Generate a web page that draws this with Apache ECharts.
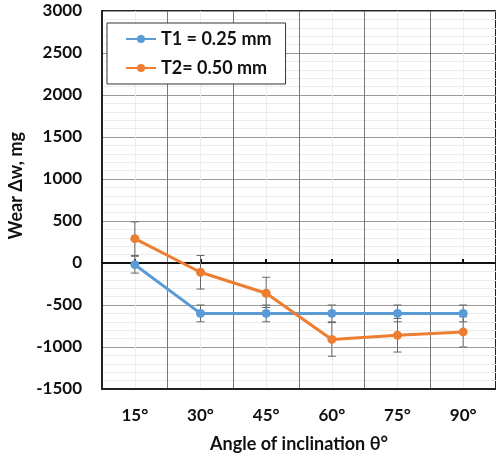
<!DOCTYPE html>
<html>
<head>
<meta charset="utf-8">
<script src="https://cdn.jsdelivr.net/npm/echarts@6/dist/echarts.min.js"></script>
<style>
  html, body { margin: 0; padding: 0; background: #fff; }
  #chart { width: 496px; height: 459px; }
</style>
</head>
<body>
<div id="chart"></div>
<script>
// values
const categories = ['15°', '30°', '45°', '60°', '75°', '90°'];
const t1Values = [-20, -600, -600, -600, -600, -600];
const t1ErrUp = [100, 100, 100, 100, 100, 100];
const t1ErrDown = [100, 100, 100, 100, 100, 100];
const t2Values = [290, -110, -360, -910, -860, -820];
const t2ErrUp = [200, 200, 190, 200, 200, 180];
const t2ErrDown = [200, 200, 170, 200, 200, 180];
const yTicks = { min: -1500, max: 3000, step: 500 };

const FONT = 'Lato';
const chart = echarts.init(document.getElementById('chart'));

const errData = (vals, up, down) =>
  vals.map((v, i) => [i, v - down[i], v + up[i]]);

// vertical error bar with small caps
const renderErr = function (params, api) {
  const lo = api.coord([api.value(0), api.value(1)]);
  const hi = api.coord([api.value(0), api.value(2)]);
  const half = 4;
  const style = { stroke: '#666', lineWidth: 1 };
  return {
    type: 'group',
    children: [
      { type: 'line', shape: { x1: hi[0], y1: hi[1], x2: lo[0], y2: lo[1] }, style },
      { type: 'line', shape: { x1: hi[0] - half, y1: hi[1], x2: hi[0] + half, y2: hi[1] }, style },
      { type: 'line', shape: { x1: lo[0] - half, y1: lo[1], x2: lo[0] + half, y2: lo[1] }, style }
    ]
  };
};

const option = {
  animation: false,
  backgroundColor: '#fff',
  grid: {
    left: 102, right: -4, top: 11, bottom: 70,
    show: true, borderColor: '#222', borderWidth: 2,
    containLabel: false
  },
  legend: {
    left: 107, top: 23, orient: 'vertical',
    backgroundColor: '#fff', borderColor: '#333', borderWidth: 1,
    padding: [7, 14, 7, 18], itemGap: 11,
    itemWidth: 30, itemHeight: 10,
    textStyle: { fontFamily: FONT, fontWeight: 'bold', fontSize: 18, color: '#111' },
    data: ['T1 = 0.25 mm', 'T2= 0.50 mm']
  },
  xAxis: [
    {
      type: 'category', data: categories, position: 'bottom',
      axisLine: { onZero: false, lineStyle: { color: '#222', width: 2 } },
      axisTick: { show: false },
      splitLine: { show: false },
      axisLabel: { fontFamily: FONT, fontWeight: 'bold', fontSize: 17, color: '#111', margin: 18 },
      name: 'Angle of inclination θ°', nameLocation: 'middle', nameGap: 46,
      nameTextStyle: { fontFamily: FONT, fontWeight: 'bold', fontSize: 18, color: '#111' }
    },
    {
      // grid lines only: dark at category edges, light at centres
      type: 'value', min: 0, max: 6, interval: 1, position: 'bottom',
      axisLine: { show: false }, axisTick: { show: false }, axisLabel: { show: false },
      splitLine: { show: true, lineStyle: { color: '#777', width: 1 } },
      minorTick: { show: false, splitNumber: 2 },
      minorSplitLine: { show: true, lineStyle: { color: '#ececec', width: 1 } }
    },
    {
      // axis line through zero with small ticks
      type: 'category', data: categories, position: 'bottom',
      axisLine: { onZero: true, onZeroAxisIndex: 0, lineStyle: { color: '#111', width: 2 } },
      axisTick: { show: true, inside: true, alignWithLabel: true, length: 4, lineStyle: { color: '#111', width: 2 } },
      axisLabel: { show: false },
      splitLine: { show: false }
    }
  ],
  yAxis: {
    type: 'value', min: yTicks.min, max: yTicks.max, interval: yTicks.step,
    axisLine: { show: true, lineStyle: { color: '#222', width: 2 } },
    axisTick: { show: false },
    axisLabel: {
      fontFamily: FONT, fontWeight: 'bold', fontSize: 17, color: '#111', margin: 20,
      formatter: v => String(v)
    },
    splitLine: { lineStyle: { color: '#999', width: 1 } },
    minorTick: { show: false, splitNumber: 5 },
    minorSplitLine: { show: true, lineStyle: { color: '#ececec', width: 1 } }
  },
  graphic: [{
    type: 'text', left: 7, top: 132, rotation: Math.PI / 2,
    style: { text: 'Wear Δw, mg', fontFamily: FONT, fontWeight: 'bold', fontSize: 18, fill: '#111' }
  }],
  series: [
    {
      type: 'custom', name: 'err1', renderItem: renderErr, z: 1,
      data: errData(t1Values, t1ErrUp, t1ErrDown), encode: { x: 0, y: [1, 2] }
    },
    {
      type: 'custom', name: 'err2', renderItem: renderErr, z: 1,
      data: errData(t2Values, t2ErrUp, t2ErrDown), encode: { x: 0, y: [1, 2] }
    },
    {
      name: 'T1 = 0.25 mm', type: 'line', data: t1Values, z: 3,
      symbol: 'circle', symbolSize: 9,
      lineStyle: { color: '#5B9BD5', width: 3 },
      itemStyle: { color: '#5B9BD5' }
    },
    {
      name: 'T2= 0.50 mm', type: 'line', data: t2Values, z: 3,
      symbol: 'circle', symbolSize: 9,
      lineStyle: { color: '#ED7D31', width: 3 },
      itemStyle: { color: '#ED7D31' }
    }
  ]
};

chart.setOption(option);
</script>
</body>
</html>
